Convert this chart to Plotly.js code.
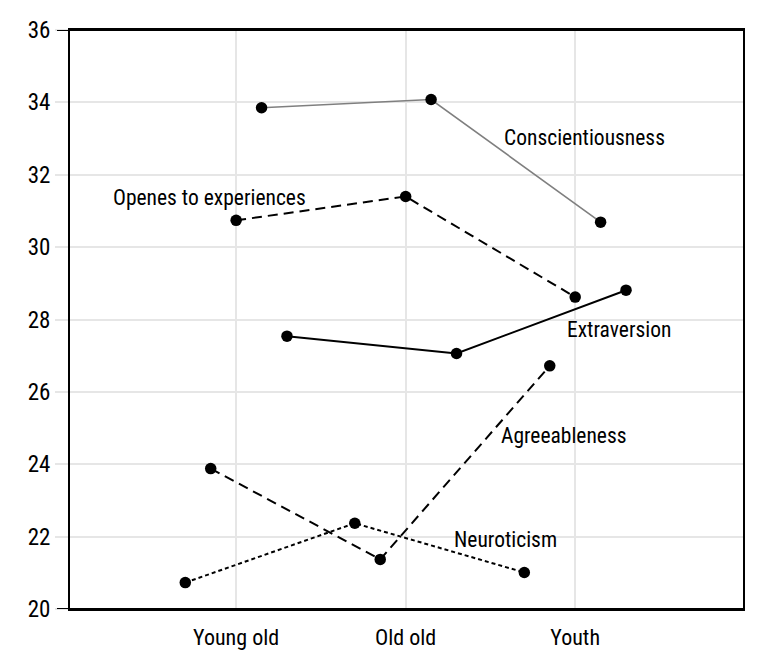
<!DOCTYPE html>
<html>
<head>
<meta charset="utf-8">
<script src="https://cdn.plot.ly/plotly-3.0.1.min.js"></script>
<style>html,body{margin:0;padding:0;background:#fff;}#chart{width:771px;height:668px;}</style>
</head>
<body>
<div id="chart"></div>
<script>
const categories = ['Young old', 'Old old', 'Youth'];
const neuroticism = [20.73, 22.37, 21.01];
const agreeableness = [23.88, 21.37, 26.72];
const openness = [30.74, 31.40, 28.62];
const conscientiousness = [33.85, 34.08, 30.69];
const extraversion = [27.54, 27.06, 28.81];
const yTicks = [20, 22, 24, 26, 28, 30, 32, 34, 36];

const FONT = '"Roboto Condensed", "DejaVu Sans Condensed", sans-serif';

function tr(name, vals, color, width, dash, group) {
  return {
    type: 'scatter', mode: 'lines+markers', name: name,
    x: categories, y: vals, offsetgroup: group,
    line: {color: color, width: width, dash: dash},
    marker: {color: '#000', size: 11.5},
    showlegend: false, hoverinfo: 'skip'
  };
}

const data = [
  tr('Neuroticism', neuroticism, '#000', 2, '4px,3px', 'a'),
  tr('Agreeableness', agreeableness, '#000', 2, '10px,6px', 'b'),
  tr('Openes to experiences', openness, '#000', 2, '10px,6px', 'c'),
  tr('Conscientiousness', conscientiousness, '#7f7f7f', 1.6, 'solid', 'd'),
  tr('Extraversion', extraversion, '#000', 2, 'solid', 'e')
];

function ann(text, x, y) {
  return {text: text, x: x, y: y, xref: 'x', yref: 'y', showarrow: false,
          xanchor: 'center', yanchor: 'middle', font: {family: FONT, size: 21.5, color: '#000'}};
}

const layout = {
  width: 771, height: 668,
  margin: {l: 70, r: 28, t: 30, b: 59},
  paper_bgcolor: '#fff', plot_bgcolor: '#fff',
  font: {family: FONT, size: 22, color: '#000'},
  scattermode: 'group', scattergap: 0.25,
  xaxis: {
    type: 'category', range: [-0.98, 2.99],
    showgrid: true, gridcolor: '#e6e6e6', gridwidth: 2,
    showline: true, linecolor: '#000', linewidth: 2, mirror: true,
    ticks: '', ticklabelstandoff: 8, zeroline: false,
    tickfont: {family: FONT, size: 22, color: '#000'}
  },
  yaxis: {
    range: [20, 36], tickvals: yTicks, ticktext: yTicks.map(String),
    showgrid: true, gridcolor: '#e6e6e6', gridwidth: 2,
    showline: true, linecolor: '#000', linewidth: 2, mirror: true,
    ticks: 'outside', ticklen: 13, tickwidth: 2, tickcolor: '#e6e6e6',
    zeroline: false,
    tickfont: {family: FONT, size: 23, color: '#000'}
  },
  shapes: [
    {type: 'line', xref: 'paper', yref: 'y', x0: -13/673, x1: 1, y0: 20, y1: 20, line: {color: '#000', width: 2}},
    {type: 'line', xref: 'paper', yref: 'y', x0: -13/673, x1: 1, y0: 36, y1: 36, line: {color: '#000', width: 2}}
  ],
  annotations: [
    ann('Conscientiousness', 2.056, 33.02),
    ann('Openes to experiences', -0.157, 31.36),
    ann('Extraversion', 2.261, 27.72),
    ann('Agreeableness', 1.932, 24.80),
    ann('Neuroticism', 1.591, 21.92)
  ]
};

Plotly.newPlot('chart', data, layout, {displayModeBar: false, staticPlot: true});
</script>
</body>
</html>
